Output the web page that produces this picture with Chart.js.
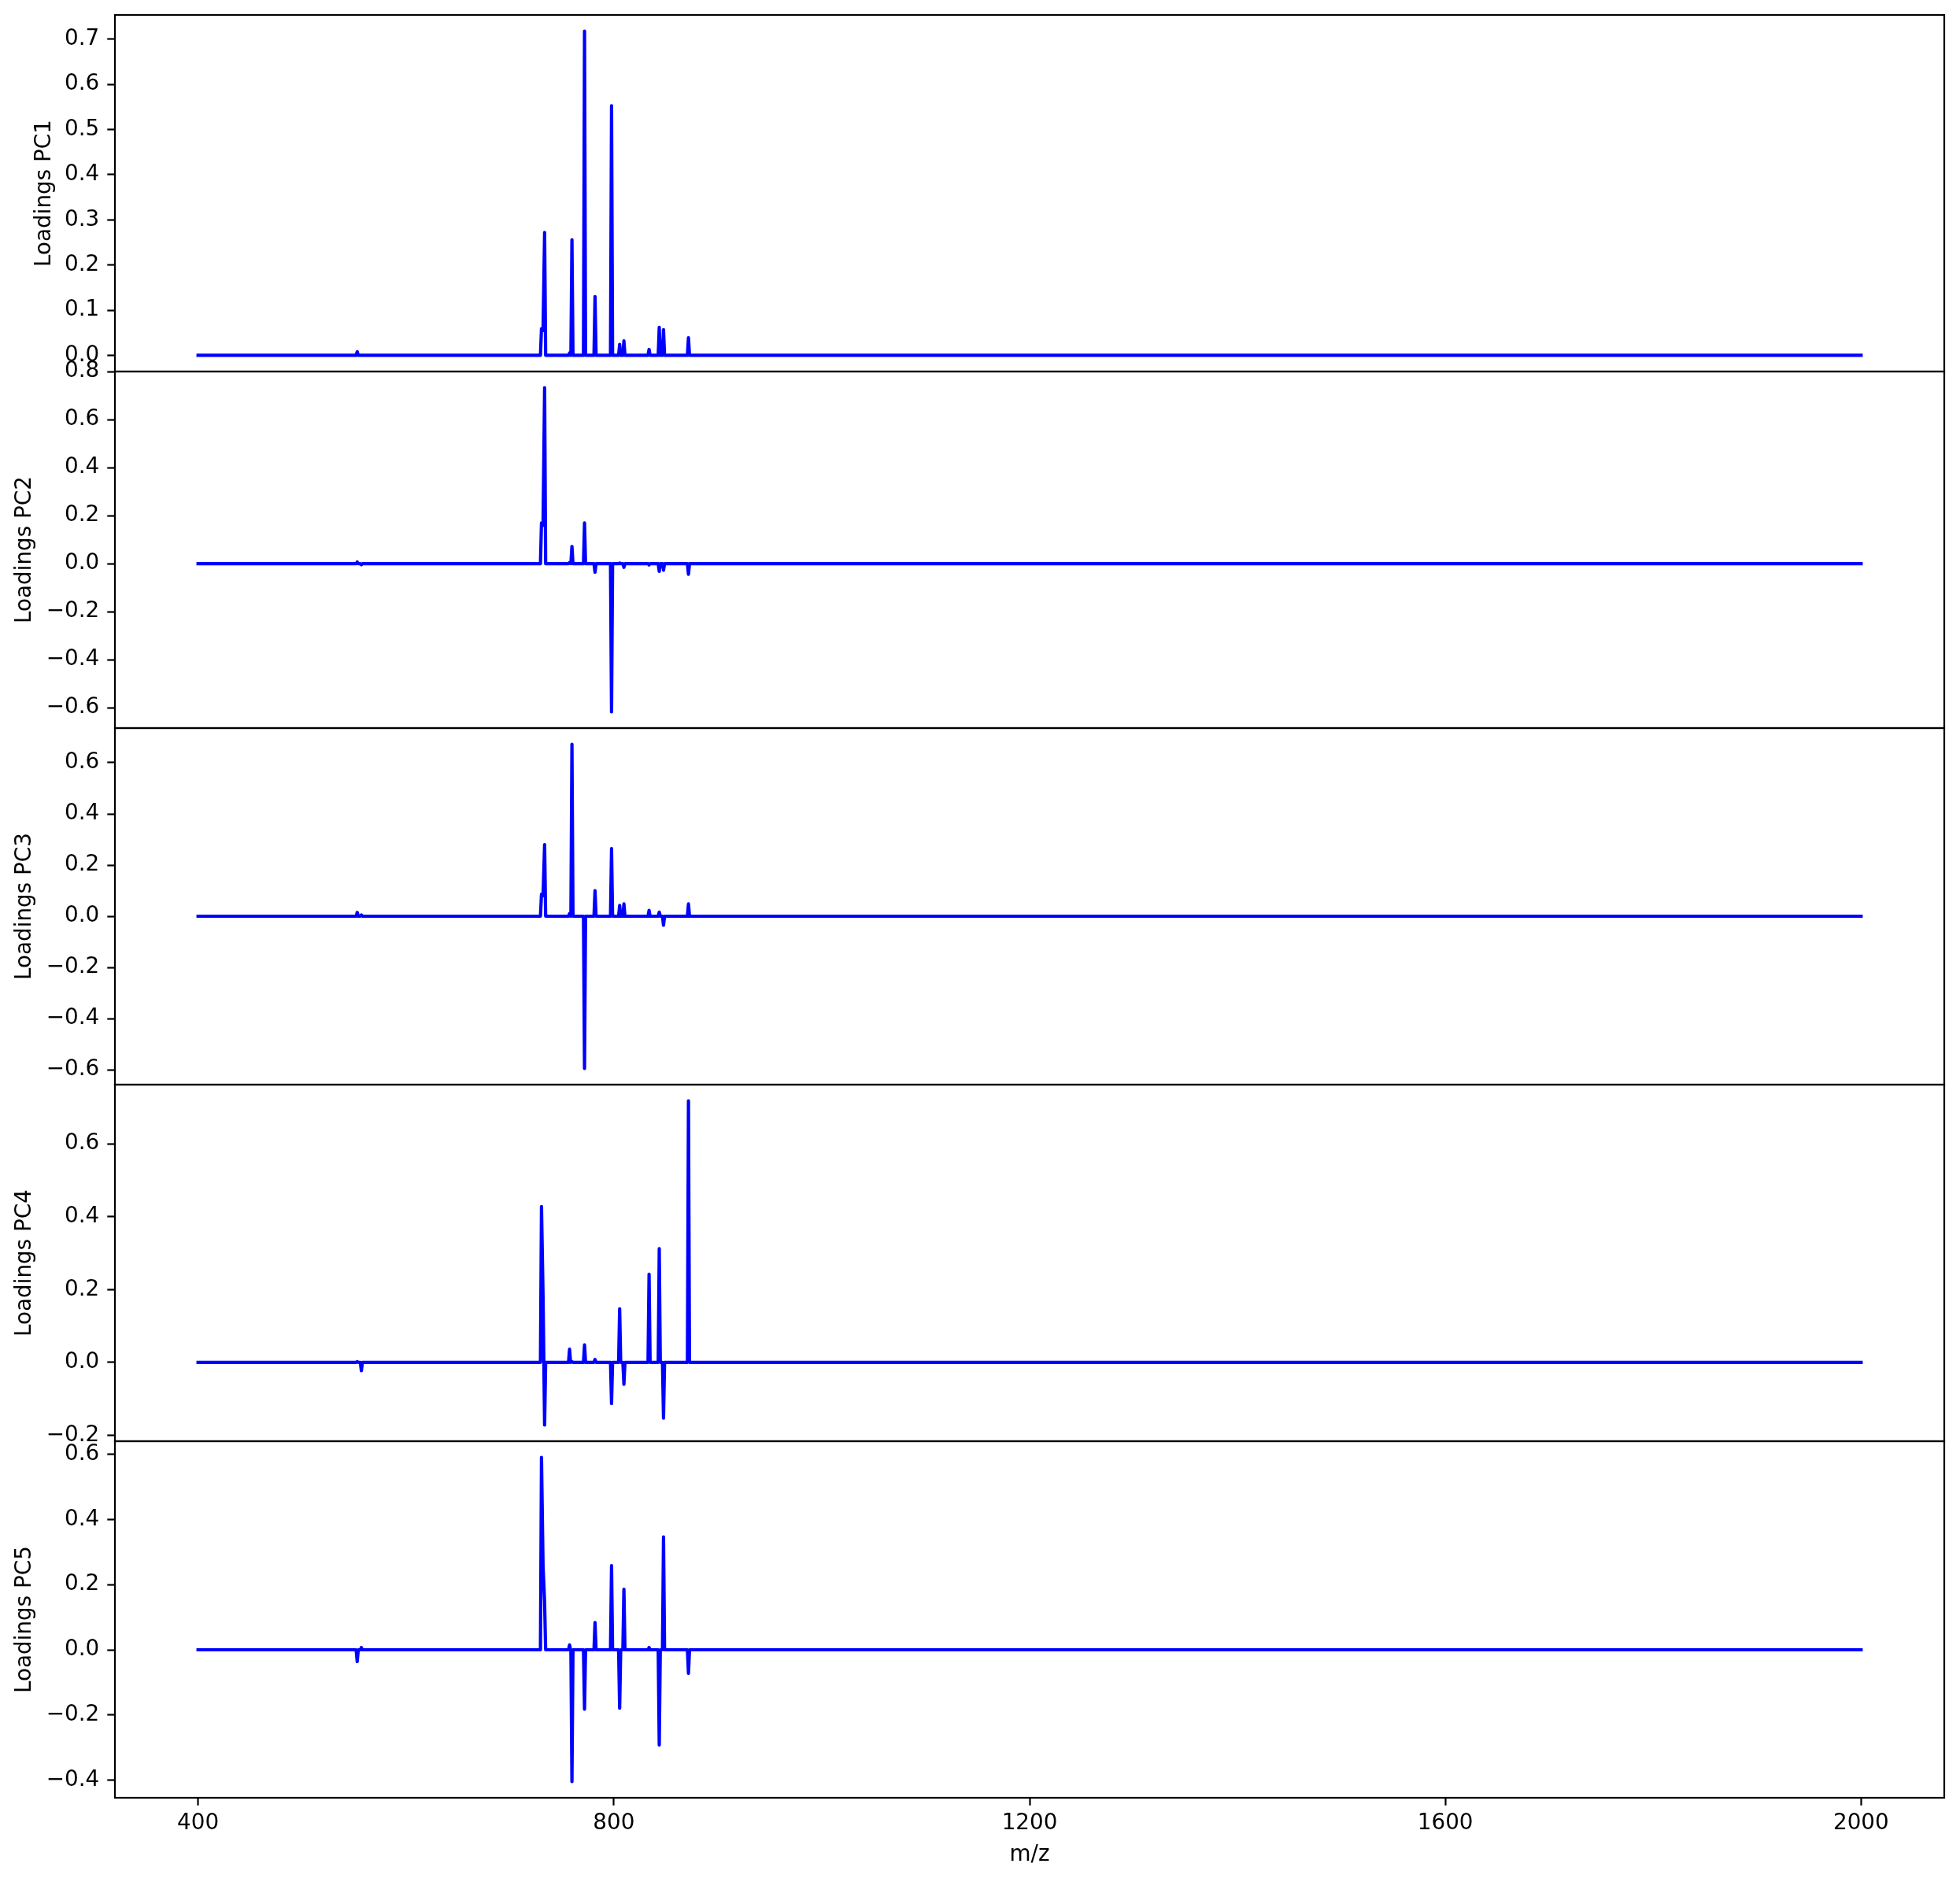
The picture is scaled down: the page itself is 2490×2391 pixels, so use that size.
<!DOCTYPE html>
<html>
<head>
<meta charset="utf-8">
<script src="https://cdn.jsdelivr.net/npm/chart.js@4.4.0/dist/chart.umd.min.js"></script>
<style>
html, body { margin: 0; padding: 0; background: #ffffff; }
#wrap { position: relative; width: 2490px; height: 2391px; overflow: hidden; background: #ffffff; }
#wrap canvas { position: absolute; left: 0; }
</style>
</head>
<body>
<div id="wrap"></div>
<script>
// ---------------- data ----------------
const mzRange = [400, 2000];
const mzPeaks = [553.1, 557.1, 730.4, 731.9, 733.4, 757.4, 759.7, 771.8, 781.9, 797.8, 805.6, 809.7, 833.9, 843.7, 847.8, 871.8];
const loadingsPC1 = [0.008, 0.0, 0.059, 0.055, 0.272, 0.005, 0.256, 0.718, 0.130, 0.553, 0.024, 0.032, 0.013, 0.062, 0.057, 0.039];
const loadingsPC2 = [0.007, -0.004, 0.170, 0.160, 0.733, 0.005, 0.072, 0.170, -0.035, -0.617, 0.003, -0.015, -0.005, -0.032, -0.027, -0.044];
const loadingsPC3 = [0.015, 0.005, 0.086, 0.080, 0.280, 0.010, 0.672, -0.595, 0.100, 0.264, 0.042, 0.048, 0.023, 0.016, -0.035, 0.048];
const loadingsPC4 = [0.002, -0.023, 0.428, 0.182, -0.172, 0.036, 0.002, 0.048, 0.008, -0.113, 0.147, -0.060, 0.242, 0.312, -0.153, 0.718];
const loadingsPC5 = [-0.036, 0.007, 0.590, 0.257, 0.145, 0.015, -0.404, -0.182, 0.084, 0.258, -0.179, 0.186, 0.007, -0.292, 0.346, -0.072];

const panelTitles = ['Loadings PC1', 'Loadings PC2', 'Loadings PC3', 'Loadings PC4', 'Loadings PC5'];
const yTicksPC1 = [0.0, 0.1, 0.2, 0.3, 0.4, 0.5, 0.6, 0.7];
const yTicksPC2 = [-0.6, -0.4, -0.2, 0.0, 0.2, 0.4, 0.6, 0.8];
const yTicksPC3 = [-0.6, -0.4, -0.2, 0.0, 0.2, 0.4, 0.6];
const yTicksPC4 = [-0.2, 0.0, 0.2, 0.4, 0.6];
const yTicksPC5 = [-0.4, -0.2, 0.0, 0.2, 0.4, 0.6];
const xTicks = [400, 800, 1200, 1600, 2000];
const xTitle = 'm/z';

// ---------------- layout / style ----------------
const W = 2490, H = 2391;
const AREA_LEFT = 146, AREA_RIGHT = 2470, AREA_TOP = 19, PANEL_H = 453, X_AXIS_H = 107;
const PAD = 30;
const FONT = 'DejaVu Sans';
const FS = 27.8;
const LINE_BLUE = '#0000ff';

const panels = [
  { values: loadingsPC1, ticks: yTicksPC1, titlePad: 40 },
  { values: loadingsPC2, ticks: yTicksPC2, titlePad: 14.8 },
  { values: loadingsPC3, ticks: yTicksPC3, titlePad: 14.8 },
  { values: loadingsPC4, ticks: yTicksPC4, titlePad: 14.8 },
  { values: loadingsPC5, ticks: yTicksPC5, titlePad: 14.8 }
];

// spectrum points: zero baseline with one spike per peak (library table built from arrays)
function buildSpectrum(mz, vals) {
  const gap = 1;
  const pts = [{ x: mzRange[0], y: 0 }];
  for (let i = 0; i < mz.length; i++) {
    if (i === 0 || mz[i] - mz[i - 1] > 2 * gap) pts.push({ x: mz[i] - gap, y: 0 });
    pts.push({ x: mz[i], y: vals[i] });
    if (i === mz.length - 1 || mz[i + 1] - mz[i] > 2 * gap) pts.push({ x: mz[i] + gap, y: 0 });
  }
  pts.push({ x: mzRange[1], y: 0 });
  return pts;
}

function fmtY(v) {
  const r = Math.round(v * 10) / 10;
  const s = Math.abs(r).toFixed(1);
  return r < 0 ? '\u2212' + s : s;
}

const framePlugin = {
  id: 'frame',
  afterDatasetsDraw(chart) {
    const { left, top, right, bottom } = chart.chartArea;
    const ctx = chart.ctx;
    ctx.save();
    ctx.strokeStyle = '#000000';
    ctx.lineWidth = 2.2;
    ctx.strokeRect(left, top, right - left, bottom - top);
    ctx.restore();
  }
};

const wrap = document.getElementById('wrap');
const xSpan = mzRange[1] - mzRange[0];

panels.forEach((p, i) => {
  const isLast = i === panels.length - 1;
  const panelTop = AREA_TOP + PANEL_H * i;
  const canvasTop = panelTop - PAD;
  const canvasH = PAD + PANEL_H + (isLast ? X_AXIS_H : PAD);
  const canvas = document.createElement('canvas');
  canvas.width = W;
  canvas.height = canvasH;
  canvas.style.top = canvasTop + 'px';
  canvas.style.width = W + 'px';
  canvas.style.height = canvasH + 'px';
  wrap.appendChild(canvas);

  const lo = Math.min(0, ...p.values);
  const hi = Math.max(0, ...p.values);
  const m = 0.05 * (hi - lo);

  new Chart(canvas, {
    type: 'line',
    data: {
      datasets: [{
        data: buildSpectrum(mzPeaks, p.values),
        borderColor: LINE_BLUE,
        backgroundColor: LINE_BLUE,
        borderWidth: 4.17,
        borderJoinStyle: 'round',
        borderCapStyle: 'square',
        pointRadius: 0,
        pointHoverRadius: 0,
        tension: 0,
        fill: false
      }]
    },
    options: {
      responsive: false,
      animation: false,
      events: [],
      layout: { padding: { left: 0, right: W - AREA_RIGHT, top: PAD, bottom: isLast ? 0 : PAD } },
      plugins: { legend: { display: false }, tooltip: { enabled: false } },
      scales: {
        x: {
          type: 'linear',
          min: mzRange[0] - 0.05 * xSpan,
          max: mzRange[1] + 0.05 * xSpan,
          display: isLast,
          afterBuildTicks: (ax) => { ax.ticks = xTicks.map(v => ({ value: v })); },
          afterFit: (s) => { s.height = isLast ? X_AXIS_H : 0; },
          grid: { drawOnChartArea: false, drawTicks: true, tickLength: 9.7, tickWidth: 2.2, tickColor: '#000000' },
          border: { display: false },
          ticks: {
            padding: 6, color: '#000000', maxRotation: 0, autoSkip: false,
            font: { family: FONT, size: FS },
            callback: (v) => String(v)
          },
          title: {
            display: true, text: xTitle, color: '#000000',
            font: { family: FONT, size: FS },
            padding: { top: 0, bottom: 17.7 }
          }
        },
        y: {
          type: 'linear',
          min: lo - m,
          max: hi + m,
          afterBuildTicks: (ax) => { ax.ticks = p.ticks.map(v => ({ value: v })); },
          afterFit: (s) => { s.width = AREA_LEFT; },
          grid: { drawOnChartArea: false, drawTicks: true, tickLength: 9.7, tickWidth: 2.2, tickColor: '#000000' },
          border: { display: false },
          ticks: {
            padding: 10, color: '#000000', autoSkip: false,
            font: { family: FONT, size: FS },
            callback: (v) => fmtY(v)
          },
          title: {
            display: true, text: panelTitles[i], color: '#000000',
            font: { family: FONT, size: FS },
            padding: { top: p.titlePad, bottom: 0 }
          }
        }
      }
    },
    plugins: [framePlugin]
  });
});
</script>
</body>
</html>
